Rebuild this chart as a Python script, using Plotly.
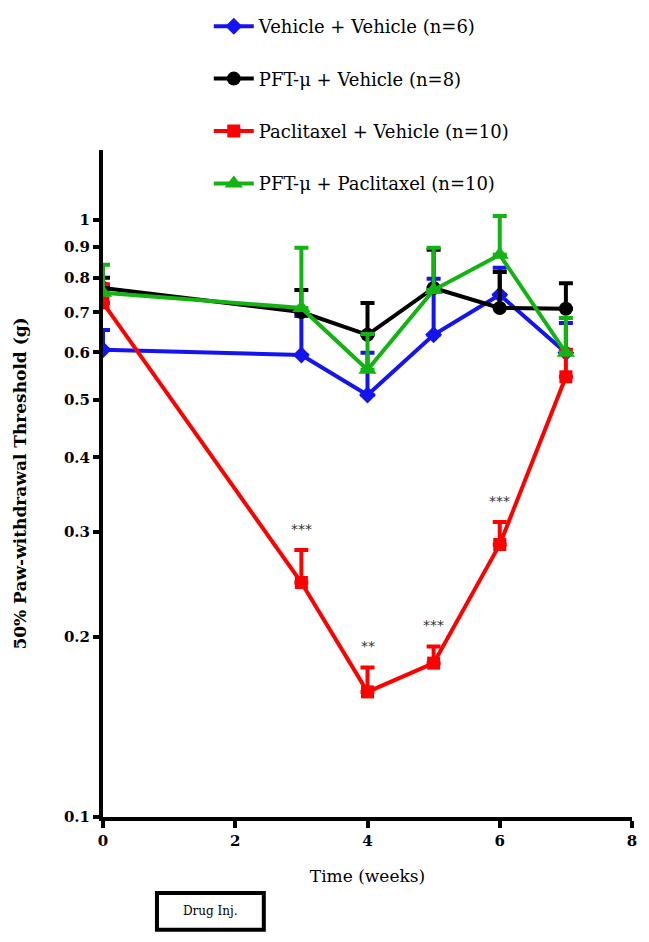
import math
import plotly.graph_objects as go

# weeks
weeks = [0, 3, 4, 5, 6, 7]

# means (g) and upper SEM tops
veh_veh = [0.606, 0.594, 0.509, 0.642, 0.749, 0.599]
veh_veh_top = [0.654, 0.690, 0.599, 0.797, 0.831, 0.672]

pft_veh = [0.769, 0.701, 0.642, 0.769, 0.712, 0.710]
pft_veh_top = [0.800, 0.763, 0.726, 0.891, 0.818, 0.783]

pac_veh = [0.726, 0.247, 0.162, 0.181, 0.286, 0.546]
pac_veh_top = [0.780, 0.280, 0.178, 0.193, 0.312, 0.606]

pft_pac = [0.755, 0.712, 0.561, 0.763, 0.874, 0.599]
pft_pac_top = [0.841, 0.898, 0.644, 0.898, 1.015, 0.685]

star_weeks = [3, 4, 5, 6]
star_text = ["***", "**", "***", "***"]

ytick_vals = [0.1, 0.2, 0.3, 0.4, 0.5, 0.6, 0.7, 0.8, 0.9, 1]
ytick_text = ["0.1", "0.2", "0.3", "0.4", "0.5", "0.6", "0.7", "0.8", "0.9", "1"]

series = [
    ("Vehicle + Vehicle (n=6)", veh_veh, veh_veh_top, "#1414f0", "diamond", 13),
    ("PFT-\u03bc + Vehicle (n=8)", pft_veh, pft_veh_top, "#000000", "circle", 14),
    ("Paclitaxel + Vehicle (n=10)", pac_veh, pac_veh_top, "#ff0000", "square", 13),
    ("PFT-\u03bc + Paclitaxel (n=10)", pft_pac, pft_pac_top, "#12b312", "triangle-up", 16),
]

fig = go.Figure()
for i, (name, mean, top, col, sym, sz) in enumerate(series):
    fig.add_trace(go.Scatter(
        x=weeks, y=mean, name=name, legendgroup=str(i),
        mode="lines+markers",
        line=dict(color=col, width=4),
        marker=dict(color=col, symbol=sym, size=sz),
        error_y=dict(type="data", symmetric=False,
                     array=[t - m for t, m in zip(top, mean)],
                     arrayminus=[0] * len(mean),
                     color=col, thickness=4, width=7),
    ))

# significance stars above the paclitaxel caps
for w, s in zip(star_weeks, star_text):
    idx = weeks.index(w)
    fig.add_annotation(x=w, y=math.log10(pac_veh_top[idx]),
                       text=s, showarrow=False, yshift=21,
                       font=dict(family="DejaVu Sans", size=14, color="#333333"))

# Drug Inj. box
fig.add_shape(type="rect", xref="paper", yref="paper",
              x0=0.102, x1=0.304, y0=-0.169, y1=-0.114,
              line=dict(color="black", width=4), fillcolor="white")
fig.add_annotation(xref="paper", yref="paper", x=0.203, y=-0.1415,
                   xanchor="center", yanchor="middle",
                   text="Drug Inj.", showarrow=False,
                   font=dict(family="DejaVu Serif", size=12, color="black"))

# page body has an 8px margin, so the figure is 8px smaller on each axis
fig.update_layout(
    width=641, height=934,
    margin=dict(l=95, r=17, t=142, b=125, autoexpand=False),
    plot_bgcolor="white", paper_bgcolor="white",
    font=dict(family="DejaVu Serif", color="black"),
    showlegend=True,
    legend=dict(x=0.20, y=1.009, xref="paper", yref="container",
                xanchor="left", yanchor="top",
                font=dict(family="DejaVu Serif", size=18),
                tracegroupgap=26, itemwidth=40,
                bgcolor="rgba(0,0,0,0)"),
    xaxis=dict(range=[0, 8], tickvals=[0, 2, 4, 6, 8],
               showline=True, linecolor="black", linewidth=4,
               ticks="outside", ticklen=7, tickwidth=4, tickcolor="black",
               tickfont=dict(family="DejaVu Serif", size=15, weight="bold"),
               showgrid=False, zeroline=False,
               title=dict(text="Time (weeks)", standoff=22,
                          font=dict(family="DejaVu Serif", size=17))),
    yaxis=dict(type="log", range=[-1, 0.117],
               tickvals=ytick_vals, ticktext=ytick_text,
               showline=True, linecolor="black", linewidth=4,
               ticks="outside", ticklen=6, tickwidth=4, tickcolor="black",
               tickfont=dict(family="DejaVu Serif", size=15, weight="bold"),
               showgrid=False, zeroline=False,
               title=dict(text="50% Paw-withdrawal Threshold (g)", standoff=34,
                          font=dict(family="DejaVu Serif", size=17, weight="bold"))),
)

fig.write_html("out.html")
